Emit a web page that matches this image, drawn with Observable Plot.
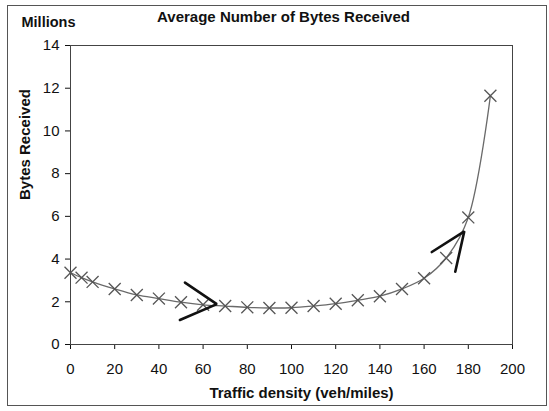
<!DOCTYPE html>
<html>
<head>
<meta charset="utf-8">
<script src="https://cdn.jsdelivr.net/npm/d3@7"></script>
<script src="https://cdn.jsdelivr.net/npm/@observablehq/plot@0.6"></script>
<style>
  body { margin: 0; background: #fff; }
  #wrap { position: relative; width: 549px; height: 411px; }
  #border { position: absolute; left: 7px; top: 5px; width: 538px; height: 399px; border: 1px solid #555; pointer-events: none; }
</style>
</head>
<body>
<div id="wrap"><div id="border"></div></div>
<script>
// Traffic density (veh/miles) and average bytes received (millions)
const density = [0, 5, 10, 20, 30, 40, 50, 60, 70, 80, 90, 100, 110, 120, 130, 140, 150, 160, 170, 180, 190];
const bytesReceived = [3.36, 3.13, 2.93, 2.6, 2.32, 2.15, 1.98, 1.86, 1.8, 1.74, 1.71, 1.72, 1.8, 1.91, 2.07, 2.26, 2.6, 3.1, 4.05, 5.95, 11.65];

// Chevron annotations (density, bytes) marking the two regimes
const arrowLeftX = [51.8, 66.2, 49.5];
const arrowLeftY = [2.9, 1.89, 1.15];
const arrowRightX = [163.5, 178.2, 174.1];
const arrowRightY = [4.33, 5.3, 3.41];

const xTicks = [0, 20, 40, 60, 80, 100, 120, 140, 160, 180, 200];
const yTicks = [0, 2, 4, 6, 8, 10, 12, 14];

const points = density.map((d, i) => ({x: d, y: bytesReceived[i]}));
const arrows = [
  ...arrowLeftX.map((x, i) => ({x, y: arrowLeftY[i], k: "a"})),
  ...arrowRightX.map((x, i) => ({x, y: arrowRightY[i], k: "b"}))
];

const font = "Liberation Sans, Arial, sans-serif";

const chart = Plot.plot({
  width: 549,
  height: 411,
  marginLeft: 70,
  marginRight: 37,
  marginTop: 45,
  marginBottom: 67,
  style: {fontFamily: font, fontSize: "15px", color: "#111", background: "transparent"},
  x: {domain: [0, 200], ticks: xTicks, label: null, tickSize: 5, tickPadding: 14},
  y: {domain: [0, 14], ticks: yTicks, label: null, tickSize: 5, tickPadding: 6},
  marks: [
    Plot.frame({stroke: "#444", strokeWidth: 1}),
    Plot.line(points, {x: "x", y: "y", curve: "catmull-rom", stroke: "#6a6a6a", strokeWidth: 1.3}),
    Plot.dot(points, {x: "x", y: "y", symbol: "times", r: 5.5, stroke: "#555", strokeWidth: 1.3}),
    Plot.line(arrows, {x: "x", y: "y", z: "k", stroke: "#111", strokeWidth: 2.6, strokeLinejoin: "miter"}),
    Plot.text(["Average Number of Bytes Received"], {frameAnchor: "top", dx: -8, dy: -34, fontWeight: "bold", fontSize: 15, fill: "#111"}),
    Plot.text(["Millions"], {frameAnchor: "top-left", dx: -49, dy: -29, fontWeight: "bold", fontSize: 14.5, fill: "#111"}),
    Plot.text(["Bytes Received"], {frameAnchor: "left", dx: -45, dy: 5, rotate: -90, fontWeight: "bold", fontSize: 15, fill: "#111"}),
    Plot.text(["Traffic density (veh/miles)"], {frameAnchor: "bottom", dx: 10, dy: 53, fontWeight: "bold", fontSize: 15, fill: "#111"})
  ]
});

document.getElementById("wrap").prepend(chart);
</script>
</body>
</html>
